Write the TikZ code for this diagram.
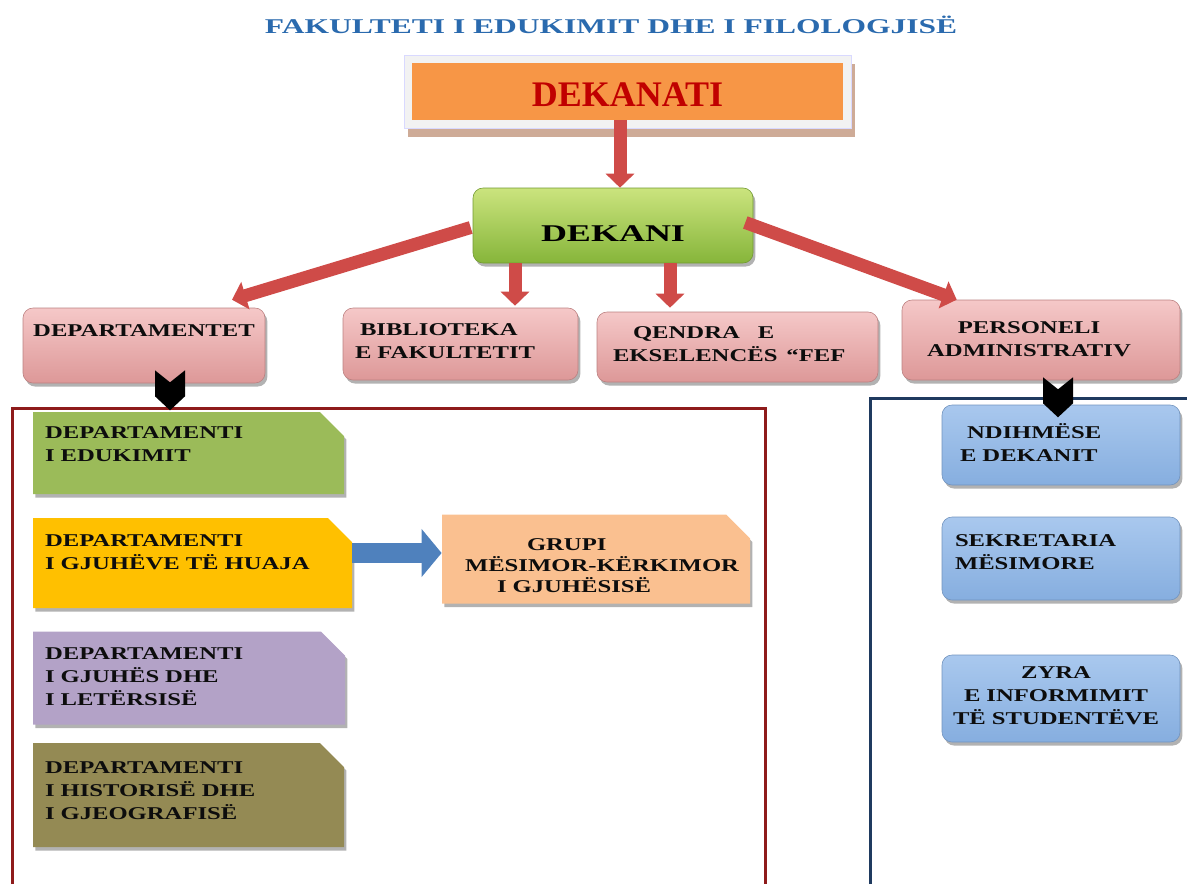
\documentclass[tikz,border=0pt]{standalone}
\usepackage{fontspec}
\setmainfont{Liberation Serif}
\newfontfamily\wf[FakeStretch=1.37]{Liberation Serif}
\newfontfamily\tf[FakeStretch=1.5]{Liberation Serif}
\usetikzlibrary{shapes.misc,shadows,arrows.meta,calc}
\newcommand\lift[2]{\raisebox{#1}[\height][\depth]{#2}}
\newcommand\tl[2]{\lift{#1}{\begin{tabular}{@{}l@{}}#2\end{tabular}}}
\newcommand\tc[3]{\lift{#1}{\begin{tabular}{@{}c@{\hspace{#2}}}#3\end{tabular}}}
\definecolor{pinkT}{HTML}{F5C8C8}
\definecolor{pinkB}{HTML}{DD9898}
\definecolor{grT}{HTML}{CBE47E}
\definecolor{grB}{HTML}{86B53A}
\definecolor{deptgreen}{HTML}{9BBB59}
\definecolor{depyellow}{HTML}{FFC000}
\definecolor{deppurple}{HTML}{B3A2C7}
\definecolor{depolive}{HTML}{948A54}
\definecolor{grupicol}{HTML}{FAC090}
\definecolor{blueT}{HTML}{A9C8EE}
\definecolor{blueB}{HTML}{86AEDF}
\definecolor{orangefill}{HTML}{F79646}
\definecolor{darkred}{HTML}{C00000}
\definecolor{arrowred}{HTML}{CF4B48}
\definecolor{titleblue}{HTML}{2A6AAE}
\definecolor{framered}{HTML}{8E1B1B}
\definecolor{frameblue}{HTML}{1F3A5F}
\definecolor{blockblue}{HTML}{4F81BD}
\definecolor{brownsh}{HTML}{C9A28C}
\begin{document}
\begin{tikzpicture}[x=0.5pt,y=-0.5pt,
  txt/.style={font=\wf\bfseries\fontsize{9}{11.5}\selectfont, text=black!95},
  shad/.style={drop shadow={shadow xshift=1.2pt, shadow yshift=-1.8pt, fill=black, opacity=.3}},
  pinkbox/.style={txt, rounded corners=5pt, top color=pinkT, bottom color=pinkB, draw=pinkB!85!black, line width=.3pt, shad, inner sep=0pt},
  deptbox/.style={txt, chamfered rectangle, chamfered rectangle corners=north east,
     chamfered rectangle xsep=6pt, chamfered rectangle ysep=6pt, shad, inner ysep=0pt, inner xsep=0pt, align=left},
  bluebox/.style={txt, rounded corners=5pt, top color=blueT, bottom color=blueB, draw=blueB!85!black, line width=.3pt, shad, inner sep=0pt, align=left},
  redarrow/.style={draw=arrowred, line width=6.5pt, -{Triangle[width=14pt,length=7pt]}},
  chev/.pic={\fill[black] (-15,0) -- (0,12) -- (15,0) -- (15,26) -- (0,40) -- (-15,26) -- cycle;}
]
\useasboundingbox (0,0) rectangle (1187,884);

% title
\node[font=\tf\bfseries\fontsize{10.5}{12}\selectfont, text=titleblue] (title) at (611,25) {FAKULTETI I EDUKIMIT DHE I FILOLOGJISË};

% dekanati
\node[fill=black!5, draw=blue!15, line width=.4pt, minimum width=223.5pt, minimum height=36.5pt,
      drop shadow={shadow xshift=1.5pt, shadow yshift=-4pt, fill=brownsh, opacity=.9}] (dekanatframe) at (628,92) {};
\node[fill=orangefill, minimum width=215.5pt, minimum height=28.5pt, inner sep=0pt,
      font=\bfseries\fontsize{18}{20}\selectfont, text=darkred] (dekanat) at (627.5,91.5) {\lift{-1.5pt}{DEKANATI}};

% dekani
\node[rounded corners=5pt, top color=grT, bottom color=grB, draw=grB!85!black, line width=.3pt, shad,
      minimum width=140pt, minimum height=37.5pt, inner sep=0pt,
      font=\tf\bfseries\fontsize{12}{14}\selectfont] (dekani) at (613,225.5) {\lift{-4pt}{DEKANI}};

% second row
\node[pinkbox, minimum width=121pt, minimum height=37.5pt] (dep) at (144,345.5) {\lift{7.5pt}{DEPARTAMENTET}};
\node[pinkbox, minimum width=117.5pt, minimum height=36pt, text width=105.5pt, align=left] (bib) at (460.5,344)
  {\tl{0.7pt}{\hspace*{2.5pt}BIBLIOTEKA\\E FAKULTETIT}};
\node[pinkbox, minimum width=140.5pt, minimum height=35pt, text width=124.5pt, align=left] (qen) at (737.5,347)
  {\tl{0.7pt}{\hspace*{10pt}QENDRA\quad E\\EKSELENCËS\enspace “FEF}};
\node[pinkbox, minimum width=139pt, minimum height=40pt, text width=125pt, align=center] (per) at (1041,340)
  {\tc{0pt}{12pt}{PERSONELI\\ADMINISTRATIV}};

% frames
\draw[framered, line width=1.5pt] (12,884) -- (12,408) -- (765,408) -- (765,884);
\draw[frameblue, line width=1.5pt] (870,884) -- (870,398) -- (1187,398);

% departments
\node[deptbox, fill=deptgreen, minimum width=153.5pt, minimum height=41pt, text width=143.5pt] (d1) at (188.5,453)
  {\tl{4pt}{DEPARTAMENTI\\I EDUKIMIT}};
\node[deptbox, fill=depyellow, minimum width=157.5pt, minimum height=45pt, text width=147.5pt] (d2) at (192.5,563)
  {\tl{5pt}{DEPARTAMENTI\\I GJUHËVE TË HUAJA}};
\node[deptbox, fill=deppurple, minimum width=154pt, minimum height=45pt, text width=144pt] (d3) at (189,678)
  {\tl{0pt}{DEPARTAMENTI\\I GJUHËS DHE\\I LETËRSISË}};
\node[deptbox, fill=depolive, minimum width=153.5pt, minimum height=52pt, text width=143.5pt] (d4) at (188.5,795)
  {\tl{1.7pt}{DEPARTAMENTI\\I HISTORISË DHE\\I GJEOGRAFISË}};
\node[deptbox, fill=grupicol, minimum width=154pt, minimum height=41pt, text width=131pt] (grupi) at (596,559)
  {\lift{-4pt}{\begin{tabular}{@{}l@{}}\hspace*{31pt}GRUPI\\[-1pt]MËSIMOR-KËRKIMOR\\[-1pt]\hspace*{16pt}I GJUHËSISË\end{tabular}}};

% administration
\node[bluebox, minimum width=119pt, minimum height=40pt, text width=101pt] (b1) at (1061,445)
  {\tl{0pt}{\hspace*{3.5pt}NDIHMËSE\\E DEKANIT}};
\node[bluebox, minimum width=119pt, minimum height=41.5pt, text width=106pt] (b2) at (1061,558.5)
  {\tl{2.5pt}{SEKRETARIA\\MËSIMORE}};
\node[bluebox, minimum width=119pt, minimum height=43.5pt, text width=108pt, align=center] (b3) at (1061,698.5)
  {\tc{0.7pt}{9pt}{ZYRA\\E INFORMIMIT\\TË STUDENTËVE}};

% connectors
\coordinate (xa) at (620,0);
\coordinate (xb) at (515,0);
\coordinate (xc) at (670,0);
\coordinate (yb) at (0,553);
\draw[redarrow] (dekanat.south -| xa) -- (dekani.north -| xa);
\draw[redarrow] ($(dekani.west)+(-2,2)$) -- ($(dep.north)+(88,-8)$);
\draw[redarrow] (dekani.south -| xb) -- ($(bib.north -| xb)+(0,-2)$);
\draw[redarrow] (dekani.south -| xc) -- ($(qen.north -| xc)+(0,-4)$);
\draw[redarrow] ($(dekani.east)+(-8,-3)$) -- ($(per.north west)+(55,0)$);
\draw[blockblue, line width=10pt, -{Triangle[width=23.5pt,length=10pt]}] (d2.east |- yb) -- (grupi.west |- yb);
\pic at ($(dep.south)+(26,-13)$) {chev};
\pic at ($(per.south)+(17,-3)$) {chev};
\end{tikzpicture}
\end{document}
